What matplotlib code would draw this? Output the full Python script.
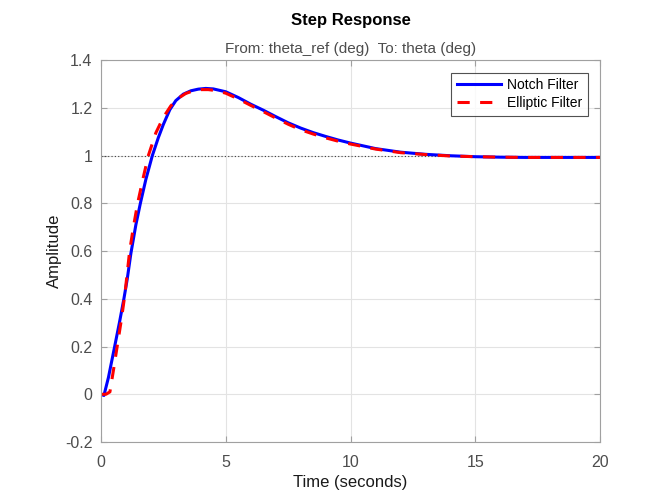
import numpy as np
from matplotlib import pyplot as plt

# step response values
t_notch = [0, 0.12, 0.3, 0.55, 0.75, 0.92, 1.05, 1.2, 1.4, 1.58, 1.8, 2.06,
           2.3, 2.5, 2.76, 3.0, 3.3, 3.6, 3.9, 4.2, 4.5, 5.0, 5.5, 6.0, 6.5,
           7.0, 7.5, 8.0, 8.5, 9.0, 9.5, 10, 11, 12, 13, 14, 15, 16, 17, 18,
           19, 20]
y_notch = [0, -0.005, 0.07, 0.2, 0.305, 0.4, 0.48, 0.59, 0.71, 0.8, 0.9, 1.0,
           1.075, 1.13, 1.192, 1.23, 1.257, 1.271, 1.278, 1.281, 1.279, 1.267,
           1.243, 1.215, 1.19, 1.163, 1.137, 1.115, 1.096, 1.08, 1.065, 1.052,
           1.029, 1.014, 1.005, 0.999, 0.995, 0.993, 0.992, 0.992, 0.992, 0.992]

t_ellip = [0, 0.2, 0.36, 0.5, 0.65, 0.8, 0.95, 1.15, 1.3, 1.47, 1.7, 1.9,
           2.2, 2.5, 2.8, 3.1, 3.4, 3.7, 4.0, 4.3, 4.6, 5.0, 5.5, 6.0, 6.5,
           7.0, 7.5, 8.0, 8.5, 9.0, 9.5, 10, 11, 12, 13, 14, 15, 16, 17, 18,
           19, 20]
y_ellip = [0, 0.0, 0.01, 0.1, 0.2, 0.3, 0.41, 0.6, 0.7, 0.8, 0.91, 1.0,
           1.095, 1.16, 1.208, 1.24, 1.26, 1.271, 1.276, 1.276, 1.272, 1.261,
           1.237, 1.21, 1.184, 1.157, 1.131, 1.108, 1.09, 1.074, 1.06, 1.048,
           1.027, 1.012, 1.004, 0.998, 0.995, 0.993, 0.992, 0.992, 0.992, 0.992]

x_ticks = [0, 5, 10, 15, 20]
y_ticks = [-0.2, 0, 0.2, 0.4, 0.6, 0.8, 1, 1.2, 1.4]
y_labels = ['-0.2', '0', '0.2', '0.4', '0.6', '0.8', '1', '1.2', '1.4']

plt.rcParams['font.family'] = ['Liberation Sans', 'DejaVu Sans']

fig = plt.figure(figsize=(6.64, 4.98), dpi=100)
ax = fig.add_axes([0.152, 0.1124, 0.752, 0.7671])

ax.grid(True, color='#e3e3e3', linewidth=0.8)
ax.set_axisbelow(True)
ax.axhline(1, color='#404040', linestyle=(0, (1, 2)), linewidth=0.8)

ax.plot(t_notch, y_notch, color='#0000ff', linewidth=2.2, label='Notch Filter')
ax.plot(t_ellip, y_ellip, color='#ff0000', linewidth=2.2,
        linestyle=(0, (4, 3.4)), label='Elliptic Filter')

ax.set_xlim(0, 20)
ax.set_ylim(-0.2, 1.4)
ax.set_xticks(x_ticks)
ax.set_yticks(y_ticks)
ax.set_yticklabels(y_labels)

gray = '#4d4d4d'
for s in ax.spines.values():
    s.set_color('#a0a0a0')
    s.set_linewidth(0.8)
ax.tick_params(direction='in', length=4, color='#a0a0a0', labelcolor=gray,
               labelsize=11.5, top=True, right=True, pad=6)
ax.tick_params(axis='x', pad=9)

ax.set_xlabel('Time (seconds)', fontsize=12, color='#1a1a1a', labelpad=4)
ax.set_ylabel('Amplitude', fontsize=12, color='#1a1a1a', labelpad=2)

fig.text(0.528, 0.958, 'Step Response', ha='center', va='center',
         fontsize=12, fontweight='bold', color='black')
ax.set_title('From: theta_ref (deg)  To: theta (deg)', fontsize=11,
             color=gray, pad=5)

leg = ax.legend(loc='upper right', fontsize=10, frameon=True, fancybox=False,
                borderaxespad=0.9, handlelength=3.2, borderpad=0.4,
                labelspacing=0.3, handletextpad=0.4)
leg.get_frame().set_edgecolor('#262626')
leg.get_frame().set_linewidth(0.8)

fig.savefig('out.png', dpi=100)
